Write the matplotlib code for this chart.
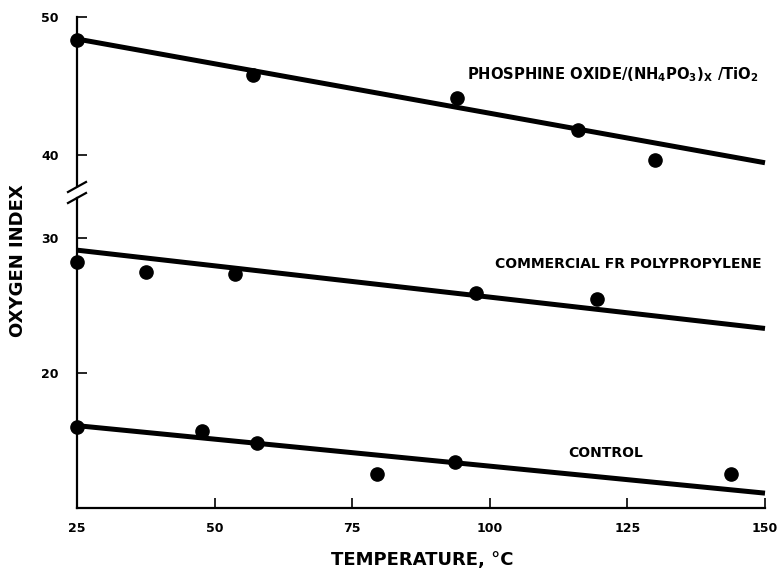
import matplotlib
matplotlib.use("Agg")
import matplotlib.pyplot as plt

# ---- data ----
temp_phos = [25, 57, 94, 116, 130]
oi_phos = [48.3, 45.8, 44.1, 41.8, 39.6]
fit_phos_t = [25, 150]
fit_phos = [48.4, 39.4]

temp_fr = [25, 37.5, 53.7, 97.5, 119.5]
oi_fr = [28.2, 27.5, 27.3, 25.9, 25.5]
fit_fr_t = [25, 150]
fit_fr = [29.1, 23.3]

temp_ctrl = [25, 47.8, 57.7, 79.5, 93.7, 143.8]
oi_ctrl = [16.0, 15.7, 14.8, 12.5, 13.4, 12.5]
fit_ctrl_t = [25, 150]
fit_ctrl = [16.1, 11.1]

x_ticks = [25, 50, 75, 100, 125, 150]
y_ticks_upper = [40, 50]
y_ticks_lower = [20, 30]

plt.rcParams['font.family'] = ['DejaVu Sans']
plt.rcParams['font.weight'] = 'bold'

fig = plt.figure(figsize=(7.8, 5.77), dpi=100)
W, H = 780, 577
left, right = 77, 765
top, brk, bottom = 17, 192, 508

ax_u = fig.add_axes([left / W, 1 - brk / H, (right - left) / W, (brk - top) / H])
ax_l = fig.add_axes([left / W, 1 - bottom / H, (right - left) / W, (bottom - brk) / H])

pu = 13.75
pl = 13.5
u_lo = 50 - (brk - top) / pu
l_hi = 10 + (bottom - brk) / pl
ax_u.set_ylim(u_lo, 50)
ax_l.set_ylim(10, l_hi)

for ax in (ax_u, ax_l):
    ax.set_xlim(25, 150)
    ax.spines['top'].set_visible(False)
    ax.spines['right'].set_visible(False)
    ax.spines['left'].set_linewidth(1.6)
    ax.spines['bottom'].set_linewidth(1.6)
    ax.tick_params(direction='in', length=7, width=1.2, labelsize=9)
    ax.patch.set_alpha(0)

ax_u.spines['bottom'].set_visible(False)
ax_u.spines['left'].set_bounds(u_lo + 6 / pu, 50)
ax_l.spines['left'].set_bounds(10, l_hi - 6 / pl)
ax_u.tick_params(axis='x', which='both', bottom=False, labelbottom=False)
ax_u.set_yticks(y_ticks_upper)
ax_l.set_yticks(y_ticks_lower)
ax_l.set_xticks(x_ticks)
ax_l.tick_params(axis='x', pad=10)
ax_l.tick_params(axis='y', pad=13)
ax_u.tick_params(axis='y', pad=13)
for ax in (ax_u, ax_l):
    for lab in ax.get_xticklabels() + ax.get_yticklabels():
        lab.set_fontweight('bold')

lw = 3.6
ms = 9.5
ax_u.plot(fit_phos_t, fit_phos, color='black', lw=lw, solid_capstyle='butt', clip_on=False)
ax_u.plot(temp_phos, oi_phos, 'o', color='black', ms=ms, clip_on=False)
ax_l.plot(fit_fr_t, fit_fr, color='black', lw=lw, solid_capstyle='butt', clip_on=False)
ax_l.plot(temp_fr, oi_fr, 'o', color='black', ms=ms, clip_on=False)
ax_l.plot(fit_ctrl_t, fit_ctrl, color='black', lw=lw, solid_capstyle='butt', clip_on=False)
ax_l.plot(temp_ctrl, oi_ctrl, 'o', color='black', ms=ms, clip_on=False)

# series labels
ax_u.text(95.8, 45.8, r'PHOSPHINE OXIDE/(NH$_\mathbf{4}$PO$_\mathbf{3}$)$_\mathbf{X}$ /TiO$_\mathbf{2}$',
          fontsize=10.6, fontweight='bold', va='center', ha='left')
ax_l.text(101, 28.1, 'COMMERCIAL FR POLYPROPYLENE', fontsize=10, fontweight='bold',
          va='center', ha='left')
ax_l.text(121, 14.1, 'CONTROL', fontsize=10, fontweight='bold', va='center', ha='center')

# break marks on the y axis
for dy in (-5, 6):
    y0 = 1 - (brk + dy) / H
    x0 = left / W
    fig.add_artist(plt.Line2D([x0 - 9 / W, x0 + 9 / W], [y0 - 5 / H, y0 + 5 / H],
                              color='black', lw=1.6, transform=fig.transFigure))

fig.text(422 / W, 1 - 560 / H, 'TEMPERATURE, °C', fontsize=13, fontweight='bold',
         ha='center', va='center')
fig.text(18 / W, 1 - 261 / H, 'OXYGEN INDEX', fontsize=13, fontweight='bold',
         ha='center', va='center', rotation=90)

fig.savefig('out.png', dpi=100)
